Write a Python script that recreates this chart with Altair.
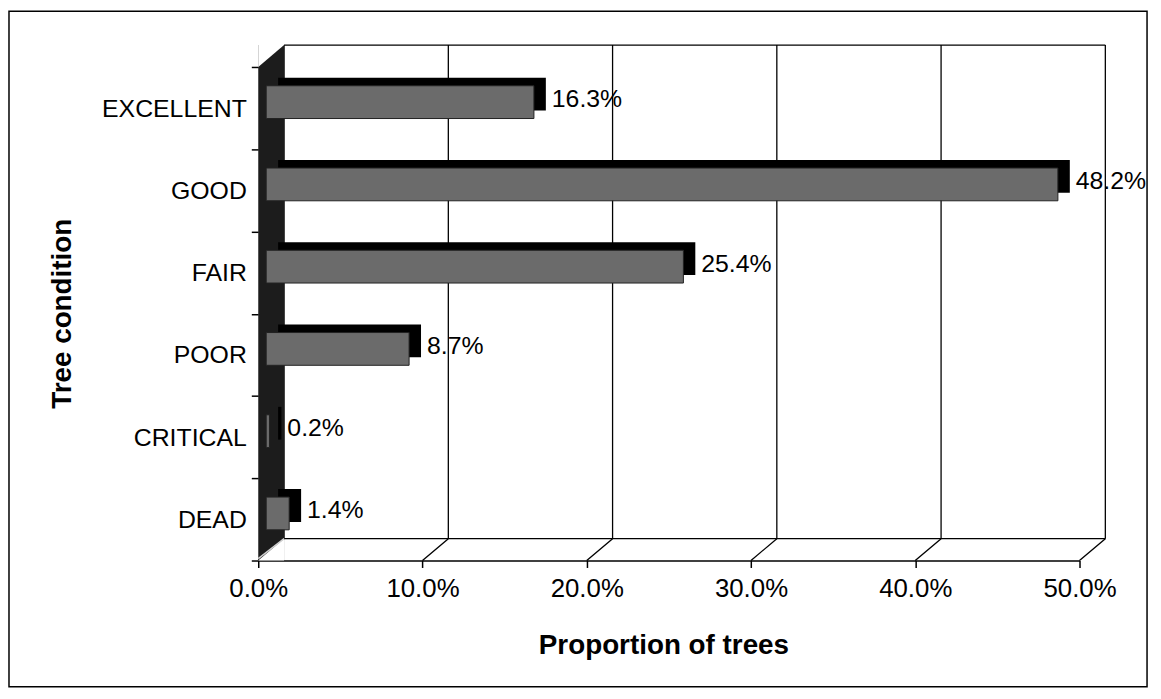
import altair as alt
import pandas as pd

categories = ["EXCELLENT", "GOOD", "FAIR", "POOR", "CRITICAL", "DEAD"]
proportions = [0.163, 0.482, 0.254, 0.087, 0.002, 0.014]
grid_values = [0.0, 0.1, 0.2, 0.3, 0.4, 0.5]
x_title = "Proportion of trees"
y_title = "Tree condition"

FONT = "Liberation Sans"
W, H = 827, 497          # front plane of the plot
DX, DY = 26, 22          # depth of the 3-D box
BAR_DX, BAR_DY = 8, 6    # bar front face position inside the box
SIDE_DX, SIDE_DY = 12, 8 # visible side / top of the bars

bars = pd.DataFrame({"condition": categories, "proportion": proportions})
grid = pd.DataFrame({"proportion": grid_values})
span = pd.DataFrame({"proportion": [grid_values[0]], "end": [grid_values[-1]]})

xscale = alt.Scale(domain=[grid_values[0], grid_values[-1]], nice=False, zero=True)
yscale = alt.Scale(domain=categories, paddingInner=0, paddingOuter=0)

x_axis = alt.Axis(
    values=grid_values, format=".1%", grid=False,
    domainColor="black", domainWidth=1.5, tickColor="black", tickWidth=1.5, tickSize=7,
    labelFont=FONT, labelFontSize=26, labelColor="black", labelPadding=8, labelFlush=False,
    title=x_title, titleFont=FONT, titleFontSize=28, titleFontWeight="bold", titleColor="black",
    titleX=408, titleY=86, titleBaseline="middle", titleAlign="center",
)
y_axis = alt.Axis(
    grid=False, domain=False, tickBand="extent", tickColor="black", tickWidth=1.5, tickSize=7,
    labelFont=FONT, labelFontSize=25, labelColor="black", labelPadding=5,
    title=y_title, titleFont=FONT, titleFontSize=28, titleFontWeight="bold", titleColor="black",
    titleAngle=270, titleX=-197, titleY=248, titleAlign="center", titleBaseline="middle",
)

X = alt.X("proportion:Q", scale=xscale, axis=x_axis, title=x_title)
Y = alt.Y("condition:N", scale=yscale, sort=categories, axis=y_axis, title=y_title)

frame = alt.Chart(span).mark_rect(filled=False, stroke="black", strokeWidth=1.5).encode(
    x=alt.value(-251), x2=alt.value(895), y=alt.value(-56), y2=alt.value(624)
)

back_grid = alt.Chart(grid).mark_rule(color="black", strokeWidth=1.3, xOffset=DX).encode(
    x=X, y=alt.value(-DY), y2=alt.value(H - DY),
)

back_top = alt.Chart(span).mark_rule(color="black", strokeWidth=1.5, xOffset=DX, x2Offset=DX).encode(
    x=X, x2="end:Q", y=alt.value(-DY)
)
back_floor = alt.Chart(span).mark_rule(color="black", strokeWidth=1.3, xOffset=DX, x2Offset=DX).encode(
    x=X, x2="end:Q", y=alt.value(H - DY)
)

floor_diag = alt.Chart(grid).mark_rule(color="black", strokeWidth=1.3, x2Offset=DX).encode(
    x=X, x2="proportion:Q", y=alt.value(H), y2=alt.value(H - DY),
)

wall = alt.Chart(span).mark_rect(color="#1c1c1c").encode(
    x=alt.value(0), x2=alt.value(DX), y=alt.value(-DY), y2=alt.value(H)
)
# cut the wall into a parallelogram (white triangles at its top-left and bottom-right)
k = DY / DX
wall_cut_top = alt.Chart(span).mark_point(
    shape=f"M -1 {-k} L 1 {-k} L -1 {k} Z", filled=True, color="white", opacity=1,
    size=(DX) ** 2, strokeWidth=0,
).encode(x=alt.value(DX / 2), y=alt.value(-DY / 2))
wall_cut_bottom = alt.Chart(span).mark_point(
    shape=f"M 1 {-k} L 1 {k} L -1 {k} Z", filled=True, color="white", opacity=1,
    size=(DX) ** 2, strokeWidth=0,
).encode(x=alt.value(DX / 2), y=alt.value(H - DY / 2))
wall_edge = alt.Chart(span).mark_rule(color="#d0d0d0", strokeWidth=1.5, x2Offset=DX).encode(
    x=X, x2="proportion:Q", y=alt.value(H - 2), y2=alt.value(H - DY),
)

bar_side = alt.Chart(bars).mark_bar(
    color="black", size=33,
    xOffset=BAR_DX + SIDE_DX, x2Offset=BAR_DX + SIDE_DX, yOffset=-(BAR_DY + SIDE_DY),
).encode(x=X, y=Y)

bar_front = alt.Chart(bars).mark_bar(
    color="#6b6b6b", stroke="#222222", strokeWidth=1, size=33,
    xOffset=BAR_DX, x2Offset=BAR_DX, yOffset=-BAR_DY,
).encode(x=X, y=Y)

labels = alt.Chart(bars).mark_text(
    align="left", baseline="middle", dx=26, dy=-9, font=FONT, fontSize=25, color="black"
).encode(
    x=X, y=Y, text=alt.Text("proportion:Q", format=".1%"),
)

chart = alt.layer(
    frame, back_grid, back_top, back_floor, floor_diag, wall, wall_cut_top, wall_cut_bottom,
    wall_edge, bar_side, bar_front, labels
).properties(
    width=W, height=H,
    autosize=alt.AutoSizeParams(type="none"),
    padding={"left": 252, "top": 57, "right": 74, "bottom": 128},
    background="white",
).configure_view(strokeWidth=0)

chart.save("out.html", embed_options={"renderer": "svg", "actions": False})
